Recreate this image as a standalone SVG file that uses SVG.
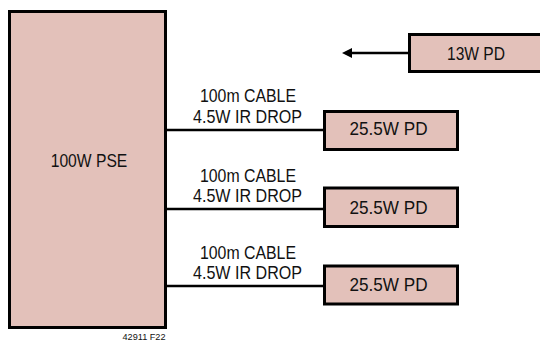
<svg xmlns="http://www.w3.org/2000/svg" width="540" height="341" viewBox="0 0 540 341">
<style>
.box{fill:#e3c1ba;stroke:#000;stroke-width:3}
.lbl{font-family:"Liberation Sans",Arial,sans-serif;font-size:18px;fill:#111;text-anchor:middle}
.cab{font-family:"Liberation Sans",Arial,sans-serif;font-size:17.5px;fill:#111;text-anchor:middle}
.wire{stroke:#000;stroke-width:2.6;fill:none}
</style>
<rect width="540" height="341" fill="#fff"/>
<g id="connectors">
<line class="wire" x1="167" y1="130" x2="324" y2="130"/>
<line class="wire" x1="167" y1="209" x2="324" y2="209"/>
<line class="wire" x1="167" y1="286" x2="324" y2="286"/>
<line class="wire" x1="409" y1="53" x2="350" y2="53"/>
<polygon points="342,53 352,48 352,58" fill="#000"/>
</g>
<g id="pse">
<rect class="box" x="9.5" y="11.5" width="156" height="316"/>
<text class="lbl" x="89" y="166.5" textLength="76.6" lengthAdjust="spacingAndGlyphs">100W PSE</text>
</g>
<g id="pd13">
<rect class="box" x="409.5" y="34.5" width="140" height="37"/>
<text class="lbl" x="476" y="60" textLength="58" lengthAdjust="spacingAndGlyphs">13W PD</text>
</g>
<g id="pd1">
<rect class="box" x="324.5" y="111.5" width="133" height="38"/>
<text class="lbl" x="388.5" y="135" textLength="78" lengthAdjust="spacingAndGlyphs">25.5W PD</text>
</g>
<g id="pd2">
<rect class="box" x="324.5" y="188" width="133" height="38.5"/>
<text class="lbl" x="388.5" y="213.5" textLength="78" lengthAdjust="spacingAndGlyphs">25.5W PD</text>
</g>
<g id="pd3">
<rect class="box" x="324.5" y="266" width="133" height="38"/>
<text class="lbl" x="388.5" y="290.5" textLength="78" lengthAdjust="spacingAndGlyphs">25.5W PD</text>
</g>
<g id="cable-labels">
<text class="cab" x="248" y="102" textLength="96" lengthAdjust="spacingAndGlyphs">100m CABLE</text>
<text class="cab" x="247.5" y="123" textLength="109" lengthAdjust="spacingAndGlyphs">4.5W IR DROP</text>
<text class="cab" x="248" y="181.5" textLength="96" lengthAdjust="spacingAndGlyphs">100m CABLE</text>
<text class="cab" x="247.5" y="202" textLength="109" lengthAdjust="spacingAndGlyphs">4.5W IR DROP</text>
<text class="cab" x="248" y="258.5" textLength="96" lengthAdjust="spacingAndGlyphs">100m CABLE</text>
<text class="cab" x="247.5" y="279" textLength="109" lengthAdjust="spacingAndGlyphs">4.5W IR DROP</text>
</g>
<text x="144" y="339.5" font-family="Liberation Sans,Arial,sans-serif" font-size="9" fill="#111" text-anchor="middle" textLength="43" lengthAdjust="spacingAndGlyphs">42911 F22</text>
</svg>
